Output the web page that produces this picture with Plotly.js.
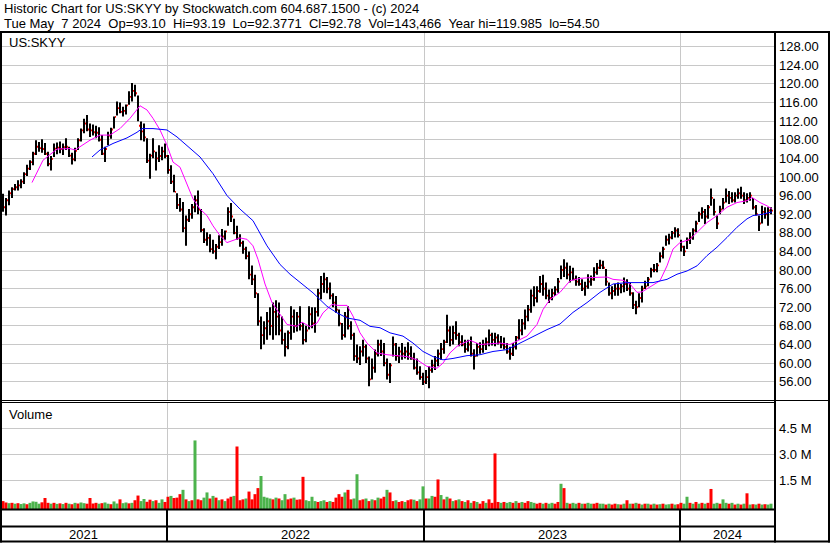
<!DOCTYPE html>
<html><head><meta charset="utf-8">
<script src="https://cdn.plot.ly/plotly-3.0.1.min.js"></script>
<style>html,body{margin:0;padding:0;background:#fff}#chart{width:830px;height:543px}</style>
</head><body><div id="chart"></div>
<script>
// ---- header values ----
const symbol = 'US:SKYY';
const lastDate = 'Tue May\u00a0\u00a07 2024';
const lastOp = '93.10', lastHi = '93.19', lastLo = '92.3771', lastCl = '92.78', lastVol = '143,466';
const yearHi = '119.985', yearLo = '54.50';

// ---- price bars, one per 3 trading days (day index = 2 + 3*i) ----
const barStep = 3;
const lo = [
92.5,91.7,93.9,95.5,97.1,97.1,97.6,98.5,100.2,101.5,
102.5,104.7,105.4,105.2,104.7,102.3,101.4,104.3,104.9,105.1,
104.7,105.8,104.3,102.7,103.4,105.8,107.6,109.4,109.8,108.6,
108.9,108.3,107.6,104.7,103.2,106.8,108.2,110.4,113.2,113.7,
113.0,113.4,115.5,116.2,117.3,112.0,107.9,107.6,103.0,99.6,
104.0,101.4,103.2,103.6,104.0,100.7,98.5,96.7,93.1,92.5,
88.1,85.2,90.3,91.0,92.4,92.0,88.1,85.8,85.2,83.8,
83.5,82.3,84.5,85.2,86.5,89.5,90.3,87.7,86.5,85.0,
83.5,82.3,78.0,76.8,74.0,68.0,63.0,64.0,65.0,66.0,
65.0,66.0,66.0,64.0,61.4,63.0,65.0,66.5,66.8,67.0,
64.0,64.5,67.2,67.5,66.5,70.0,73.7,75.1,75.0,73.7,
72.0,70.8,67.9,65.0,65.5,67.2,65.0,60.5,60.0,59.6,
61.4,60.0,55.0,56.5,57.9,61.4,61.5,59.3,56.5,55.7,
61.4,60.5,60.0,60.7,61.0,60.7,60.7,58.6,57.5,56.4,
55.3,55.5,54.6,57.9,58.5,59.3,60.7,62.0,64.3,63.6,
64.0,65.0,63.6,63.6,62.2,62.5,61.4,58.6,61.4,62.0,
62.2,62.8,63.6,63.8,63.6,64.0,63.2,62.9,62.0,60.7,
61.5,62.9,65.0,66.0,67.2,69.0,70.8,72.2,73.0,75.1,
74.5,73.7,72.9,73.5,74.4,75.1,78.0,78.5,78.0,77.3,
77.8,76.6,76.6,75.5,74.5,76.0,76.6,77.7,79.0,80.2,
80.2,76.6,74.5,73.7,74.5,74.5,75.0,75.2,75.5,74.5,
71.6,70.5,72.0,73.0,75.9,76.5,78.4,79.5,79.5,81.6,
82.5,85.2,85.5,86.6,87.0,87.0,84.0,83.0,84.5,85.6,
86.5,88.1,90.3,91.0,89.9,91.0,93.8,91.7,88.8,92.0,
93.0,94.5,94.2,94.5,94.5,95.3,95.3,94.2,94.5,94.9,
93.0,91.7,88.4,90.0,91.0,89.5,92.0];
const hi = [
96.4,95.5,97.1,97.8,98.5,99.3,99.5,101.0,102.6,103.6,
105.4,107.9,107.5,108.1,107.3,105.4,104.5,107.2,107.4,107.6,
107.2,108.3,106.5,105.2,106.3,108.3,110.4,112.5,113.3,111.5,
111.3,111.0,110.7,109.0,106.5,109.7,110.6,113.0,116.2,116.0,
115.1,115.6,118.4,120.2,119.8,117.5,111.9,111.5,108.3,105.0,
108.3,105.4,106.8,106.5,107.2,104.7,102.5,100.5,96.5,95.5,
94.6,91.7,93.1,94.2,96.0,97.1,93.1,89.0,88.1,87.7,
86.5,85.6,87.5,88.8,88.5,93.5,94.4,91.0,89.5,87.7,
86.3,85.0,84.0,81.0,79.0,75.0,70.0,69.0,71.0,72.0,
73.0,73.5,73.0,70.0,66.5,67.0,72.2,71.5,71.0,72.2,
68.6,68.0,72.2,72.0,72.0,76.0,78.7,79.4,78.5,77.3,
75.0,74.4,71.5,68.6,71.0,72.2,69.0,66.5,64.0,63.6,
65.0,64.0,61.4,61.0,62.9,65.0,65.0,64.3,61.0,60.0,
65.7,64.3,63.5,64.3,63.5,64.5,63.6,62.2,61.0,59.3,
57.9,58.5,59.3,60.7,61.5,62.9,64.3,65.0,70.4,67.9,
68.0,69.0,66.5,66.0,65.0,65.0,65.7,63.0,64.3,64.5,
65.0,65.5,67.2,66.5,66.5,66.2,65.8,65.5,64.3,63.5,
64.3,65.8,69.4,69.5,71.5,72.5,75.8,76.5,76.5,78.7,
79.0,77.3,75.8,76.0,76.5,78.3,81.0,82.3,81.6,80.9,
80.5,78.8,78.5,78.0,77.5,79.1,78.8,80.6,81.5,82.2,
82.0,80.2,77.3,76.5,77.0,77.3,77.0,78.4,78.0,77.3,
75.2,73.4,75.0,76.6,77.7,78.5,80.5,81.3,81.5,83.8,
85.0,87.4,87.8,88.4,89.2,89.0,86.5,85.2,87.0,88.1,
89.0,90.6,92.5,93.5,93.1,94.0,97.5,95.3,91.7,93.8,
95.5,97.5,97.0,96.7,96.7,97.5,97.9,96.7,96.5,96.7,
95.5,94.0,91.7,93.8,93.5,93.5,93.5];
const cl = [
93.5,95.0,96.5,97.4,97.8,98.2,99.0,100.6,101.8,103.2,
105.0,106.5,106.2,106.0,105.0,102.8,103.9,106.1,106.3,106.0,
106.4,106.5,104.6,103.8,105.6,107.9,110.0,111.5,110.2,110.0,
109.6,109.5,108.0,105.0,106.0,108.9,110.2,112.9,114.8,114.0,
114.2,115.4,117.2,118.5,118.0,111.0,109.8,108.5,103.5,104.6,
105.5,104.0,104.5,105.5,104.5,101.5,99.0,96.8,94.0,93.0,
89.0,90.8,92.0,93.5,95.0,93.0,88.6,86.5,86.9,84.5,
84.0,85.0,86.0,87.2,88.3,92.5,91.5,88.0,86.8,85.8,
84.5,83.0,79.0,78.0,75.0,69.0,66.0,67.5,69.0,68.0,
71.0,70.0,67.0,65.0,63.5,66.5,70.0,68.0,70.0,68.0,
65.0,67.0,70.5,68.5,71.0,75.0,77.0,78.0,76.0,74.5,
73.0,71.5,68.5,66.0,70.0,68.0,66.0,61.5,61.0,62.5,
63.5,61.0,56.5,59.0,62.0,64.0,62.5,60.0,57.5,59.5,
64.0,61.5,62.5,62.0,62.5,62.0,61.0,59.0,58.0,57.0,
56.0,57.0,58.5,59.5,60.5,62.0,63.0,64.5,67.0,65.0,
66.5,66.0,64.5,64.0,63.0,64.0,62.0,61.5,63.5,63.0,
64.0,64.5,66.0,65.0,65.5,64.5,64.0,63.5,62.5,62.0,
63.5,65.5,67.0,68.5,70.0,71.5,74.5,74.0,75.5,77.0,
76.0,74.5,74.0,75.0,75.8,77.5,80.0,80.5,79.0,79.5,
78.0,77.5,77.0,76.0,76.5,77.5,78.0,79.5,80.5,81.0,
80.5,77.5,75.0,75.5,76.0,76.0,76.5,77.0,76.0,75.0,
72.5,72.0,74.0,76.0,76.5,78.0,80.0,80.0,81.0,83.0,
84.5,86.5,87.0,88.0,88.5,87.5,85.0,84.0,86.5,87.0,
88.5,90.0,92.0,92.5,91.5,93.5,95.5,92.5,90.0,93.0,
94.5,96.0,95.5,95.0,96.0,96.5,96.0,95.0,95.5,96.0,
93.5,92.0,90.0,92.5,92.0,92.8,92.78];

// ---- volume (thousand shares) and direction, same sampling ----
const volK = [
300,220,180,200,150,180,130,170,120,200,
280,260,150,230,480,200,150,200,140,170,
130,200,150,120,200,160,220,180,150,480,
160,200,150,180,220,150,120,280,160,400,
180,220,170,200,350,620,300,420,260,380,
300,350,200,400,250,550,600,480,500,700,
950,400,300,350,3800,400,350,500,800,450,
600,500,350,400,300,450,550,600,3450,350,
400,450,850,400,700,1050,1750,550,500,450,
400,500,450,350,700,400,450,500,380,400,
1700,350,300,550,300,250,300,350,250,300,
250,500,700,550,800,950,400,450,1850,350,
400,450,300,400,350,500,450,550,950,800,
300,350,250,300,250,350,400,380,300,400,
1150,450,450,600,550,1550,650,400,550,450,
300,350,400,300,250,350,200,300,250,150,
300,200,400,200,3050,250,200,250,200,250,
200,300,200,250,200,300,250,200,150,200,
150,200,150,200,150,250,1300,1050,200,150,
200,150,200,150,150,200,150,150,200,150,
150,100,150,100,150,120,100,150,350,150,
150,200,150,100,150,150,100,150,100,120,
150,100,120,150,100,120,200,150,550,200,
150,250,150,200,150,200,1000,150,200,150,
400,200,150,200,100,150,100,150,750,100,
120,100,150,100,120,100,150];
const volDir =
'rrgrgrggrg'+'gggrrrgrgr'+'grgrgrggrr'+'rrgrggrggr'+'ggrgrrggrr'+
'grggrrgrrr'+'grgrgrrggr'+'grgrgrrgrr'+'rgrrrrgggg'+'rgrggrrgrr'+
'rggggrggrg'+'rrrrgrrggr'+'rgrgrgrrgr'+'rgrrgrrgrg'+'grggrrgrgr'+
'grgrgrgrgr'+'rgrrrrgrgg'+'rgrgrrggrr'+'grggrrgrgr'+'ggrgrggrrg'+
'grgrrgrgrg'+'rgrgrgrgrg'+'rggrgrrggr'+'grgrgrrggr'+'ggrgrgrgrg'+'rgrgrgg';

// ---- moving averages ----
const maFastDay = [31,42,56,69,74,89,99,109,119,129,139,146,152,159,166,172,179,186,192,199,206,212,219,226,232,239,246,252,257,264,271,279,286,296,301,309,316,322,331,337,346,352,359,366,376,386,396,406,416,426,436,442,449,456,462,469,479,489,499,509,516,526,536,542,549,559,569,579,592,606,612,622,629,636,641,649,659,666,672,679,689,696,706,716,726,736,746,751,759,766,771];
const maFastVal = [98.8,103.6,106.0,106.1,105.8,107.9,109.0,109.0,110.4,112.6,115.3,114.4,112.6,110.1,106.8,103.2,102.1,98.2,95.3,93.1,91.7,89.5,87.4,85.9,86.3,86.9,86.6,85.2,82.3,77.0,73.0,70.4,68.3,67.9,68.8,67.8,68.6,70.8,72.6,72.4,72.4,70.1,66.5,64.3,62.2,61.8,61.6,61.4,60.7,59.3,58.9,60.0,62.2,63.6,64.3,64.9,64.0,64.2,64.3,64.0,64.7,65.8,68.3,71.5,73.7,75.2,77.7,78.2,78.4,78.5,78.0,77.8,77.0,75.2,75.3,76.3,77.7,80.9,84.5,85.9,86.6,88.1,90.2,91.7,93.5,94.5,94.9,95.6,94.5,93.8,93.1];
const maSlowDay = [91,99,112,126,136,141,152,166,176,186,199,212,226,239,252,266,276,279,289,299,312,326,336,346,359,369,379,389,402,412,422,432,442,452,466,479,492,506,519,532,546,559,572,586,599,612,626,639,652,666,676,686,696,706,716,726,736,746,752,762,771];
const maSlowVal = [104.3,105.8,107.2,108.4,109.6,110.4,110.4,110.1,108.6,106.7,104.3,100.7,96.0,93.1,90.6,85.2,82.3,81.2,79.1,77.3,75.1,72.2,70.8,69.7,69.2,67.9,67.6,66.5,65.8,64.3,62.5,61.4,60.7,61.0,61.6,61.8,62.5,62.9,64.3,65.8,67.2,68.4,70.9,73.0,75.2,77.0,77.3,77.3,77.3,78.0,79.1,79.8,80.9,83.1,84.9,87.0,89.2,91.0,91.7,92.0,92.5];

// ---- axis labels ----
const yearLabels = ['2021', '2022', '2023', '2024'];
const yearStartDay = [166, 423, 679];
const volTickVals = [1.5e6, 3.0e6, 4.5e6];
const volTickText = ['1.5 M', '3.0 M', '4.5 M'];

// ---------------- drawing ----------------
const W = 830, H = 543;
const FONT = 'Liberation Sans, Arial, sans-serif';
const px = v => v / W, py = v => 1 - v / H;
const dayFirst = 2;
const barDay = lo.map((_, i) => dayFirst + barStep * i);
const volBase = -156000;

const traces = [
  { type: 'bar', x: barDay, base: lo, y: hi.map((h, i) => h - lo[i]), width: 2,
    marker: { color: '#000000', line: { width: 0 } }, xaxis: 'x', yaxis: 'y' },
  { type: 'bar', x: barDay.map(d => d + 1.5), base: cl.map(c => c - 0.2), y: cl.map(() => 0.4),
    width: 1, marker: { color: '#ff0000', line: { width: 0 } }, xaxis: 'x', yaxis: 'y' },
  { type: 'scatter', mode: 'lines', x: maFastDay, y: maFastVal,
    line: { color: '#ff00ff', width: 1 }, xaxis: 'x', yaxis: 'y' },
  { type: 'scatter', mode: 'lines', x: maSlowDay, y: maSlowVal,
    line: { color: '#0000ff', width: 1 }, xaxis: 'x', yaxis: 'y' },
  { type: 'bar', x: barDay, base: volBase, y: volK.map(v => v * 1000 - volBase), width: 3,
    marker: { color: volDir.split('').map(c => c === 'r' ? '#ff0000' : '#4cb34c'), line: { width: 0 } },
    xaxis: 'x', yaxis: 'y2' }
];

const blk = '#000000';
const hline = (y, x0, x1, w) => ({ type: 'line', xref: 'paper', yref: 'paper', x0: px(x0), x1: px(x1), y0: py(y), y1: py(y), line: { color: blk, width: w } });
const vline = (x, y0, y1, w) => ({ type: 'line', xref: 'paper', yref: 'paper', x0: px(x), x1: px(x), y0: py(y0), y1: py(y1), line: { color: blk, width: w } });

const shapes = [
  hline(32, 0, 830, 2),
  hline(400.5, 0, 830, 1),
  hline(402.5, 0, 775, 1),
  hline(509.5, 0, 775, 2),
  hline(526.5, 0, 775, 2),
  hline(541.5, 0, 830, 2),
  vline(1, 31, 542.5, 2),
  vline(829, 31, 542.5, 2),
  vline(775, 31, 542.5, 2)
];
yearStartDay.forEach(d => shapes.push({ type: 'line', xref: 'x', yref: 'paper', x0: d, x1: d, y0: py(509), y1: py(541), line: { color: blk, width: 2 } }));

const txt = (t, x, y, anchor) => ({ text: t, xref: 'paper', yref: 'paper', x: px(x), y: py(y), xanchor: anchor || 'left', yanchor: 'middle', showarrow: false, font: { family: FONT, size: 13, color: '#000' } });
const sp = '\u00a0\u00a0';
const annotations = [
  txt('Historic Chart for ' + symbol + ' by Stockwatch.com 604.687.1500 - (c) 2024', 2, 9),
  txt(lastDate + sp + 'Op=' + lastOp + sp + 'Hi=' + lastHi + sp + 'Lo=' + lastLo + sp + 'Cl=' + lastCl + sp + 'Vol=' + lastVol + sp + 'Year hi=' + yearHi + sp + 'lo=' + yearLo, 2, 23),
  txt(symbol, 7, 42),
  txt('Volume', 7, 414)
];
const bounds = [-2].concat(yearStartDay, [774]);
yearLabels.forEach((lab, i) => {
  annotations.push({ text: lab, xref: 'x', yref: 'paper', x: (bounds[i] + bounds[i + 1]) / 2, y: py(534), xanchor: 'center', yanchor: 'middle', showarrow: false, font: { family: FONT, size: 13, color: '#000' } });
});

const layout = {
  width: W, height: H, margin: { l: 0, r: 0, t: 0, b: 0, pad: 0 },
  paper_bgcolor: '#ffffff', plot_bgcolor: '#ffffff', showlegend: false,
  barmode: 'overlay', hovermode: false, font: { family: FONT, size: 13, color: '#000' },
  xaxis: { domain: [px(1), px(774)], range: [0, 773], tickvals: yearStartDay, showticklabels: false, ticks: '',
    showgrid: true, gridcolor: '#c8c8c8', gridwidth: 1, zeroline: false, showline: false, anchor: 'y', fixedrange: true },
  yaxis: { domain: [py(400), py(33)], range: [52.07, 130.94], side: 'right', dtick: 4, tick0: 0, tickformat: '.2f',
    showgrid: true, gridcolor: '#c8c8c8', gridwidth: 1, zeroline: false, showline: false, ticks: '', ticklabelstandoff: 4,
    tickfont: { family: FONT, size: 13, color: '#000' }, anchor: 'x', fixedrange: true },
  yaxis2: { domain: [py(509), py(403)], range: [volBase, 5960000], side: 'right', tickvals: volTickVals, ticktext: volTickText,
    showgrid: true, gridcolor: '#c8c8c8', gridwidth: 1, zeroline: false, showline: false, ticks: '', ticklabelstandoff: 4,
    tickfont: { family: FONT, size: 13, color: '#000' }, anchor: 'x', fixedrange: true },
  shapes: shapes, annotations: annotations
};

Plotly.newPlot('chart', traces, layout, { displayModeBar: false, staticPlot: true });
</script></body></html>
